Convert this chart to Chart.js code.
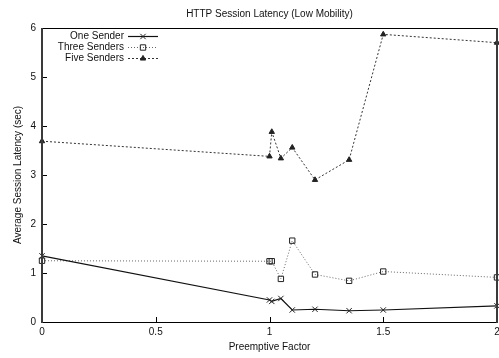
<!DOCTYPE html>
<html>
<head>
<meta charset="utf-8">
<script src="https://cdn.jsdelivr.net/npm/chart.js@4/dist/chart.umd.min.js"></script>
<style>
    html, body { margin: 0; padding: 0; background: #fff; }
    #wrap { width: 499px; height: 358px; }
</style>
</head>
<body>
<div id="wrap"><canvas id="myChart" width="499" height="358"></canvas></div>
<script>
const chartTitle = 'HTTP Session Latency (Low Mobility)';
const xAxisTitle = 'Preemptive Factor';
const yAxisTitle = 'Average Session Latency (sec)';
const seriesLabels = ['One Sender', 'Three Senders', 'Five Senders'];

const preemptiveFactors = [0, 1.0, 1.01, 1.05, 1.1, 1.2, 1.35, 1.5, 2];
const oneSender = [1.35, 0.45, 0.42, 0.48, 0.245, 0.26, 0.23, 0.245, 0.33];
const threeSenders = [1.25, 1.24, 1.24, 0.88, 1.66, 0.97, 0.84, 1.03, 0.91];
const fiveSenders = [3.69, 3.38, 3.88, 3.34, 3.56, 2.9, 3.31, 5.87, 5.7];

const xTicks = [0, 0.5, 1, 1.5, 2];
const xTickLabels = ['0', '0.5', '1', '1.5', '2'];
const yTicks = [0, 1, 2, 3, 4, 5, 6];

const FONT = '"Liberation Sans", Arial, Helvetica, sans-serif';

const seriesStyles = [
    { color: '#111', width: 1.2, dash: [], pointStyle: 'crossRot', radius: 3.8 },
    { color: '#666', width: 1, dash: [1, 2], pointStyle: 'rect', radius: 3.8 },
    { color: '#333', width: 1, dash: [2, 2], pointStyle: 'triangle', radius: 3.1 },
];

const main = () => {
    createChart();
};

/**
 * x と y の配列から点の配列を作ります。
 */
const toPoints = (values) => {
    return preemptiveFactors.map((x, i) => ({ x: x, y: values[i] }));
};

/**
 * 枠、内向きの目盛、タイトル、凡例を描きます。
 */
const frameLegendPlugin = {
    id: 'frameLegend',
    afterDraw: (chart) => {
        const ctx = chart.ctx;
        const area = chart.chartArea;
        const xScale = chart.scales.x;
        const yScale = chart.scales.y;

        ctx.save();

        // 内向きの目盛
        ctx.strokeStyle = '#000';
        ctx.lineWidth = 1;
        ctx.beginPath();
        yTicks.forEach((v) => {
            const y = Math.round(yScale.getPixelForValue(v)) + 0.5;
            ctx.moveTo(area.left, y);
            ctx.lineTo(area.left + 5, y);
        });
        xTicks.forEach((v) => {
            const x = Math.round(xScale.getPixelForValue(v)) + 0.5;
            ctx.moveTo(x, area.bottom);
            ctx.lineTo(x, area.bottom - 5);
        });
        ctx.stroke();

        // 枠
        ctx.strokeStyle = '#000';
        ctx.lineWidth = 1;
        ctx.beginPath();
        ctx.moveTo(area.left, Math.round(area.top) + 0.5);
        ctx.lineTo(area.right, Math.round(area.top) + 0.5);
        ctx.moveTo(area.left, Math.round(area.bottom) + 0.5);
        ctx.lineTo(area.right, Math.round(area.bottom) + 0.5);
        ctx.stroke();

        ctx.strokeStyle = '#3a3a3a';
        ctx.lineWidth = 2;
        ctx.beginPath();
        ctx.moveTo(Math.round(area.left), area.top);
        ctx.lineTo(Math.round(area.left), area.bottom + 1);
        ctx.moveTo(Math.round(area.right), area.top);
        ctx.lineTo(Math.round(area.right), area.bottom + 1);
        ctx.stroke();

        // タイトル
        ctx.fillStyle = '#111';
        ctx.font = '10px ' + FONT;
        ctx.textAlign = 'center';
        ctx.textBaseline = 'middle';
        ctx.fillText(chartTitle, (area.left + area.right) / 2, 14);

        // 凡例
        const rows = [36.5, 47.5, 58.5];
        seriesLabels.forEach((label, i) => {
            const style = seriesStyles[i];
            const y = rows[i];

            ctx.fillStyle = '#111';
            ctx.textAlign = 'right';
            ctx.fillText(label, 124, y);

            ctx.strokeStyle = style.color;
            ctx.lineWidth = style.width;
            ctx.setLineDash(style.dash);
            ctx.beginPath();
            ctx.moveTo(128, y);
            ctx.lineTo(158, y);
            ctx.stroke();
            ctx.setLineDash([]);

            ctx.strokeStyle = '#222';
            ctx.lineWidth = 1;
            ctx.fillStyle = style.pointStyle === 'triangle' ? '#222' : 'rgba(0,0,0,0)';
            Chart.helpers.drawPoint(ctx, {
                pointStyle: style.pointStyle,
                radius: style.radius,
                rotation: 0,
                borderWidth: 1,
            }, 143, y);
        });

        ctx.restore();
    },
};

/**
 * グラフの生成を行います。
 */
const createChart = () => {
    const seriesData = [oneSender, threeSenders, fiveSenders];

    const datasets = seriesData.map((values, i) => {
        const style = seriesStyles[i];
        return {
            label: seriesLabels[i],
            data: toPoints(values),
            showLine: true,
            borderColor: style.color,
            borderWidth: style.width,
            borderDash: style.dash,
            tension: 0,
            pointStyle: style.pointStyle,
            pointRadius: style.radius,
            pointBorderColor: '#222',
            pointBorderWidth: 1,
            pointBackgroundColor: style.pointStyle === 'triangle' ? '#222' : 'rgba(0,0,0,0)',
            clip: false,
        };
    });

    const tickFont = { family: FONT, size: 10 };

    const config = {
        type: 'scatter',
        data: { datasets: datasets },
        options: {
            responsive: false,
            animation: false,
            layout: {
                autoPadding: false,
                padding: { top: 28, right: 2, left: 0, bottom: 0 },
            },
            plugins: {
                legend: { display: false },
                title: { display: false },
                tooltip: { enabled: false },
            },
            scales: {
                x: {
                    type: 'linear',
                    min: 0,
                    max: 2,
                    afterBuildTicks: (scale) => {
                        scale.ticks = xTicks.map((v) => ({ value: v }));
                    },
                    ticks: {
                        color: '#111',
                        font: tickFont,
                        padding: 4,
                        callback: (value, index) => xTickLabels[index],
                    },
                    grid: { display: false, drawTicks: false },
                    border: { display: false },
                    title: {
                        display: true,
                        text: xAxisTitle,
                        color: '#111',
                        font: tickFont,
                        padding: { top: 0, bottom: 5 },
                    },
                    afterFit: (scale) => {
                        scale.height = 36;
                        scale.paddingLeft = 0;
                        scale.paddingRight = 0;
                    },
                },
                y: {
                    type: 'linear',
                    min: 0,
                    max: 6,
                    afterBuildTicks: (scale) => {
                        scale.ticks = yTicks.map((v) => ({ value: v }));
                    },
                    ticks: { color: '#111', font: tickFont, padding: 6 },
                    grid: { display: false, drawTicks: false },
                    border: { display: false },
                    title: {
                        display: true,
                        text: yAxisTitle,
                        color: '#111',
                        font: tickFont,
                        padding: { top: 12, bottom: 0 },
                    },
                    afterFit: (scale) => {
                        scale.width = 42;
                        scale.paddingTop = 0;
                        scale.paddingBottom = 0;
                    },
                },
            },
        },
        plugins: [frameLegendPlugin],
    };

    return new Chart(document.getElementById('myChart'), config);
};

main();
</script>
</body>
</html>
